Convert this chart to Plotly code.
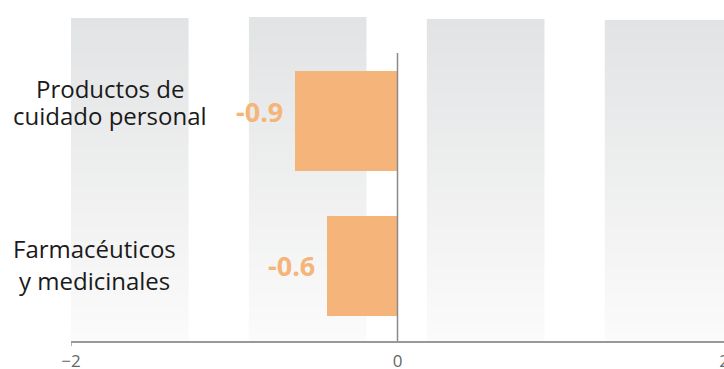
import base64
import struct
import zlib

import plotly.graph_objects as go

# ---- data ----
categories = ["Productos de\ncuidado personal", "Farmacéuticos\ny medicinales"]
bar_values = [-0.63, -0.43]          # bar lengths as drawn in the picture
value_labels = ["-0.9", "-0.6"]      # printed labels
positions = [1, 0]                   # category slots (top to bottom)

band_starts = [-2.0, -0.91, 0.18, 1.27]
band_ends = [-1.28, -0.19, 0.90, 2.0]
band_tops = [1.710, 1.717, 1.703, 1.697]

x_ticks = [-2, 0, 2]
x_tick_text = ["\u22122", "0", "2"]

# ---- layout constants ----
W, H = 724, 369
ML, MR, MT, MB = 71, 0, 17, 28
Y_RANGE = [-0.517, 1.717]
X_RANGE = [-2, 2]
plot_h = H - MT - MB
y_per_px = (Y_RANGE[1] - Y_RANGE[0]) / plot_h


def py_to_y(py):
    return Y_RANGE[1] - (py - MT) * y_per_px


def px_to_paper(px):
    return (px - ML) / (W - ML - MR)


BAR_COLOR = "#F4B47A"
FONT = "Open Sans"


# vertical gradient image (top -> bottom) for the background bands
def gradient_png(top_rgb, bottom_rgb, h=256, w=2):
    raw = b""
    for i in range(h):
        t = i / (h - 1)
        c = bytes(round(a + (b - a) * t) for a, b in zip(top_rgb, bottom_rgb))
        raw += b"\x00" + c * w

    def chunk(tag, data):
        return (struct.pack(">I", len(data)) + tag + data +
                struct.pack(">I", zlib.crc32(tag + data) & 0xFFFFFFFF))

    png = (b"\x89PNG\r\n\x1a\n" +
           chunk(b"IHDR", struct.pack(">IIBBBBB", w, h, 8, 2, 0, 0, 0)) +
           chunk(b"IDAT", zlib.compress(raw)) + chunk(b"IEND", b""))
    return "data:image/png;base64," + base64.b64encode(png).decode()


band_src = gradient_png((226, 227, 228), (251, 251, 251))

fig = go.Figure()

# bars
fig.add_trace(go.Bar(
    x=bar_values, y=positions, orientation="h",
    width=0.69, marker=dict(color=BAR_COLOR, line=dict(width=0)),
    showlegend=False, hoverinfo="skip",
))

images = []
for x0, x1, top in zip(band_starts, band_ends, band_tops):
    images.append(dict(
        source=band_src, xref="x", yref="y", x=x0, y=top,
        sizex=x1 - x0, sizey=top - Y_RANGE[0],
        xanchor="left", yanchor="top", sizing="stretch", layer="below",
    ))

annotations = []
# value labels
yshifts = [9, 1]
for v, lab, p, ys in zip(bar_values, value_labels, positions, yshifts):
    annotations.append(dict(
        x=v, y=p, xref="x", yref="y", text=lab, showarrow=False,
        xanchor="right", yanchor="middle", xshift=-10, yshift=ys,
        font=dict(family=FONT, size=27, color=BAR_COLOR, weight="bold"),
    ))

# category labels (one annotation per line, centred)
label_centers_px = [110, 94]
line_centers_py = [[88, 115], [248, 280]]
for cat, cx, lines_py in zip(categories, label_centers_px, line_centers_py):
    for line, ly in zip(cat.split("\n"), lines_py):
        annotations.append(dict(
            x=px_to_paper(cx), y=py_to_y(ly), xref="paper", yref="y",
            text=line, showarrow=False, xanchor="center", yanchor="middle",
            font=dict(family=FONT, size=24, color="#1a1a1a"),
        ))

shapes = [
    # zero line
    dict(type="line", xref="x", yref="y", x0=0, x1=0,
         y0=py_to_y(53), y1=Y_RANGE[0],
         line=dict(color="#8a8a8a", width=1.5), layer="above"),
    # small tick at left end of axis
    dict(type="line", xref="x", yref="paper", x0=X_RANGE[0], x1=X_RANGE[0],
         y0=0, y1=-5 / plot_h, line=dict(color="#999999", width=1.5)),
]

fig.update_layout(
    width=W, height=H,
    margin=dict(l=ML, r=MR, t=MT, b=MB, pad=0, autoexpand=False),
    paper_bgcolor="white", plot_bgcolor="white",
    annotations=annotations, shapes=shapes, images=images,
    xaxis=dict(range=X_RANGE, tickvals=x_ticks, ticktext=x_tick_text,
               showgrid=False, zeroline=False, showline=True,
               linecolor="#999999", linewidth=1.5, ticks="",
               tickfont=dict(family=FONT, size=17, color="#666666"),
               ticklabelstandoff=4, ticklabeloverflow="allow",
               automargin=False, fixedrange=True),
    yaxis=dict(range=Y_RANGE, showgrid=False, zeroline=False,
               showticklabels=False, showline=False, automargin=False,
               fixedrange=True),
    bargap=0,
)

fig.write_html("out.html")
